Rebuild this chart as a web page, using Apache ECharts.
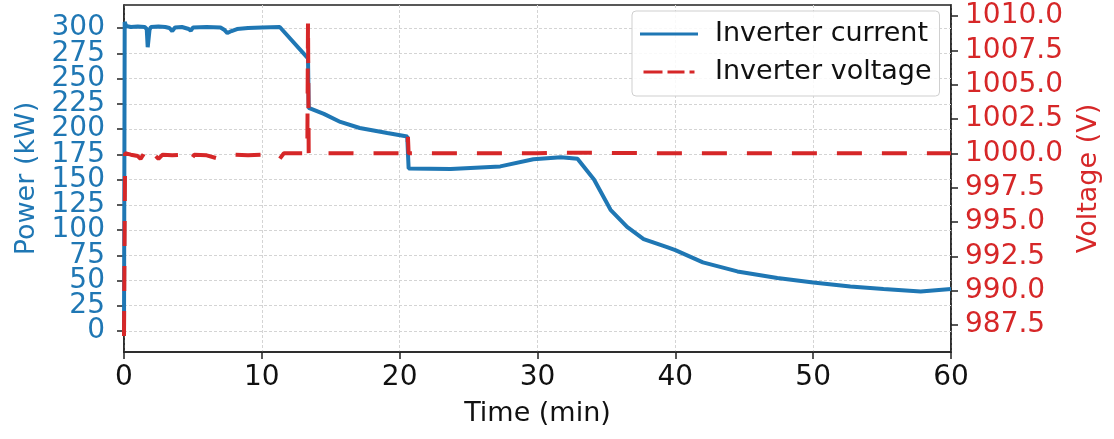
<!DOCTYPE html>
<html><head><meta charset="utf-8">
<script src="https://cdn.jsdelivr.net/npm/echarts@6/dist/echarts.min.js"></script>
<style>html,body{margin:0;padding:0;background:#fff}#c{width:1114px;height:439px}</style>
</head><body><div id="c"></div>
<script>
const powerTime = [0, 0.05, 0.15, 0.5, 1.0, 1.5, 1.65, 1.72, 1.78, 1.85, 1.95, 2.5, 3.0, 3.3, 3.5, 3.7, 4.2, 4.7, 4.85, 5.0, 6.0, 7.0, 7.3, 7.5, 7.8, 8.2, 9.0, 10.0, 11.3, 13.35, 13.4, 14.5, 15.7, 17.1, 19.1, 20.55, 20.65, 23.7, 27.3, 29.7, 31.7, 32.9, 34.1, 35.3, 36.5, 37.7, 39.4, 40.0, 42.0, 44.5, 47.4, 50.0, 52.7, 55.1, 57.8, 60];
const powerValues = [-5, 306, 302, 301, 301.5, 301, 299, 281, 280, 298, 301, 301.5, 301, 300, 297, 300.5, 301, 299, 297.5, 300.5, 301, 300.5, 298, 295, 297, 299, 300, 300.5, 301, 270, 221, 215, 207, 201, 196, 192.5, 161, 160.5, 163, 170, 172, 170.5, 150, 120, 103, 91, 83, 80, 68, 59, 52.5, 48, 44, 41.5, 39, 41.5];
const voltageTime = [0, 0.08, 0.5, 1.0, 1.2, 1.4, 1.65, 1.8, 2.2, 2.5, 2.8, 3.5, 4.5, 4.8, 5.1, 6.0, 6.7, 7.2, 8.0, 9.0, 10.0, 11.0, 11.3, 11.6, 13.3, 13.35, 13.4, 20.55, 20.6, 20.65, 30, 32, 40, 60];
const voltageValues = [986.7, 1000, 999.9, 999.8, 999.6, 999.9, 1000.4, 1000.1, 999.9, 999.6, 999.9, 999.85, 999.9, 999.45, 999.9, 999.85, 999.65, 999.8, 999.9, 999.85, 999.9, 999.75, 999.6, 1000, 1000, 1009.65, 1000, 1000, 1001.2, 1000, 1000, 1000.05, 1000, 1000];
const xTicks = [0, 10, 20, 30, 40, 50, 60];
const powerTicks = [0, 25, 50, 75, 100, 125, 150, 175, 200, 225, 250, 275, 300];
const voltageTicks = [987.5, 990.0, 992.5, 995.0, 997.5, 1000.0, 1002.5, 1005.0, 1007.5, 1010.0];
const seriesNames = ['Inverter current', 'Inverter voltage'];

// Order labels so the first two and last two are not neighbours (prevents
// ECharts' min/max-label overlap hiding from dropping 25 and 275).
function spreadOrder(arr) {
  const n = arr.length, mid = Math.floor(n / 2);
  const rest = arr.filter((_, i) => i !== 0 && i !== n - 1 && i !== mid && i !== mid - 2);
  return [arr[0], arr[mid]].concat(rest, [arr[mid - 2], arr[n - 1]]);
}
const powerLabelOrder = spreadOrder(powerTicks);

const BLUE = '#1f77b4', RED = '#d62728', FONT = 'DejaVu Sans';
const TICK_FS = 28;
const gridLine = {color: '#d4d4d4', width: 1, type: [3, 2]};
const chart = echarts.init(document.getElementById('c'), null, {renderer: 'canvas'});
chart.setOption({
  animation: false,
  textStyle: {fontFamily: FONT},
  grid: {left: 124, right: 163, top: 5, bottom: 87, show: true, borderColor: '#222', borderWidth: 1.5, containLabel: false},
  legend: {
    orient: 'vertical', left: 632, top: 11,
    padding: [9, 8, 10, 8], itemGap: 10, itemWidth: 58, itemHeight: 3,
    symbolKeepAspect: true,
    backgroundColor: 'rgba(255,255,255,0.85)', borderColor: '#cfcfcf', borderWidth: 1, borderRadius: 4,
    textStyle: {fontSize: 27, color: '#111', fontFamily: FONT, lineHeight: 28, padding: [0, 0, 0, 12]},
    data: [
      {name: seriesNames[0], icon: 'rect'},
      {name: seriesNames[1], icon: 'path://M0,0H19V3H0Z M24,0H41V3H24Z M46,0H51V3H46Z'}
    ]
  },
  xAxis: {
    type: 'value', min: 0, max: 60, interval: 10,
    name: 'Time (min)', nameLocation: 'middle', nameGap: 48,
    nameTextStyle: {fontSize: 27, color: '#111', fontFamily: FONT},
    axisLine: {show: true, onZero: false, lineStyle: {color: '#222', width: 1.5}},
    axisTick: {show: true, length: 7, lineStyle: {color: '#222', width: 1.5}},
    axisLabel: {fontSize: TICK_FS, color: '#111', margin: 12, fontFamily: FONT, showMinLabel: true, showMaxLabel: true},
    splitLine: {show: true, lineStyle: gridLine}
  },
  yAxis: [{
    type: 'value', position: 'left', min: -20.8, max: 322.8,
    name: 'Power (kW)', nameLocation: 'middle', nameGap: 80, nameRotate: 90,
    nameTextStyle: {fontSize: 27, color: BLUE, fontFamily: FONT},
    axisLine: {show: true, onZero: false, lineStyle: {color: '#222', width: 1.5}},
    axisTick: {show: true, length: 7, customValues: powerTicks, lineStyle: {color: '#222', width: 1.5}},
    axisLabel: {fontSize: TICK_FS, lineHeight: 22, color: BLUE, margin: 19, customValues: powerLabelOrder, fontFamily: FONT,
      showMinLabel: true, showMaxLabel: true, hideOverlap: false},
    splitLine: {show: false}
  }, {
    type: 'value', position: 'right', min: 985.53, max: 1010.80,
    name: 'Voltage (V)', nameLocation: 'middle', nameGap: 124, nameRotate: 90,
    nameTextStyle: {fontSize: 27, color: RED, fontFamily: FONT},
    axisLine: {show: true, onZero: false, lineStyle: {color: '#222', width: 1.5}},
    axisTick: {show: true, length: 7, customValues: voltageTicks, lineStyle: {color: '#222', width: 1.5}},
    axisLabel: {fontSize: TICK_FS, lineHeight: 24, color: RED, margin: 14, customValues: voltageTicks, fontFamily: FONT,
      showMinLabel: true, showMaxLabel: true, hideOverlap: false,
      formatter: v => Number(v).toFixed(1)},
    splitLine: {show: false}
  }],
  series: [{
    name: seriesNames[0], type: 'line', yAxisIndex: 0, z: 2,
    data: powerTime.map((t, i) => [t, powerValues[i]]),
    symbol: 'none', smooth: false,
    lineStyle: {color: BLUE, width: 4}, itemStyle: {color: BLUE},
    markLine: {
      silent: true, z: 1, symbol: ['none', 'none'], label: {show: false},
      lineStyle: gridLine, emphasis: {disabled: true},
      data: powerTicks.map(v => ({yAxis: v}))
    }
  }, {
    name: seriesNames[1], type: 'line', yAxisIndex: 1, z: 3,
    data: voltageTime.map((t, i) => [t, voltageValues[i]]),
    symbol: 'none', smooth: false,
    lineStyle: {color: RED, width: 4, type: [25, 20]}, itemStyle: {color: RED}
  }]
});
</script></body></html>
